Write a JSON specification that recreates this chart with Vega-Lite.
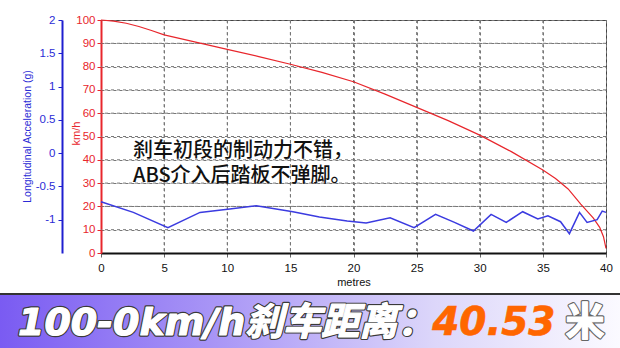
{
  "$schema": "https://vega.github.io/schema/vega-lite/v6.json",
  "width": 505,
  "height": 233,
  "autosize": {"type": "none"},
  "padding": {"left": 101, "top": 20, "right": 14, "bottom": 95},
  "background": "white",
  "config": {
    "view": {"stroke": "#444", "strokeWidth": 1},
    "font": "Liberation Sans"
  },
  "datasets": {
    "speed": [
      {"d": 0, "kmh": 100}, {"d": 1, "kmh": 99.5}, {"d": 2, "kmh": 98.6}, {"d": 3, "kmh": 97.2},
      {"d": 4, "kmh": 95.5}, {"d": 5, "kmh": 93.6}, {"d": 7.5, "kmh": 90.5}, {"d": 10, "kmh": 87.4},
      {"d": 12.5, "kmh": 84.3}, {"d": 15, "kmh": 81}, {"d": 17.5, "kmh": 77.5}, {"d": 20, "kmh": 73.5},
      {"d": 22.5, "kmh": 68.2}, {"d": 25, "kmh": 62.5}, {"d": 27.5, "kmh": 56.8}, {"d": 30, "kmh": 50.6},
      {"d": 32.5, "kmh": 43.5}, {"d": 35, "kmh": 35.6}, {"d": 36, "kmh": 32}, {"d": 37, "kmh": 27.5},
      {"d": 38, "kmh": 21}, {"d": 39, "kmh": 15}, {"d": 39.5, "kmh": 11}, {"d": 39.8, "kmh": 7}, {"d": 40, "kmh": 2}
    ],
    "accel": [
      {"d": 0, "g": -0.73}, {"d": 2.56, "g": -0.89}, {"d": 5.3, "g": -1.12}, {"d": 7.84, "g": -0.89},
      {"d": 10.2, "g": -0.84}, {"d": 12.3, "g": -0.79}, {"d": 15.2, "g": -0.88}, {"d": 17.3, "g": -0.96},
      {"d": 19.5, "g": -1.02}, {"d": 21.0, "g": -1.05}, {"d": 22.9, "g": -0.97}, {"d": 24.8, "g": -1.12},
      {"d": 26.5, "g": -0.92}, {"d": 28.0, "g": -1.04}, {"d": 29.5, "g": -1.17}, {"d": 30.9, "g": -0.92},
      {"d": 32.1, "g": -1.04}, {"d": 33.4, "g": -0.88}, {"d": 34.6, "g": -0.99}, {"d": 35.4, "g": -0.94},
      {"d": 36.4, "g": -1.03}, {"d": 37.1, "g": -1.21}, {"d": 37.9, "g": -0.89}, {"d": 38.5, "g": -1.04},
      {"d": 39.3, "g": -1.0}, {"d": 39.7, "g": -0.87}, {"d": 40, "g": -0.89}
    ],
    "gridx": [{"m": 5}, {"m": 10}, {"m": 15}, {"m": 20}, {"m": 25}, {"m": 30}, {"m": 35}],
    "gridy": [{"k": 10}, {"k": 20}, {"k": 30}, {"k": 40}, {"k": 50}, {"k": 60}, {"k": 70}, {"k": 80}, {"k": 90}],
    "banner": [{"a": 0, "b": 1}]
  },
  "layer": [
    {
      "data": {"name": "gridx"},
      "mark": {"type": "rule", "color": "#777", "strokeWidth": 1, "strokeDash": [3, 3]},
      "encoding": {
        "x": {"field": "m", "type": "quantitative", "scale": {"domain": [0, 40], "nice": false}, "axis": null}
      }
    },
    {
      "data": {"name": "gridy"},
      "mark": {"type": "rule", "color": "#777", "strokeWidth": 1, "strokeDash": [3, 3]},
      "encoding": {
        "y": {"field": "k", "type": "quantitative", "scale": {"domain": [0, 100], "nice": false}, "axis": null}
      }
    },
    {
      "layer": [
        {
          "data": {"name": "speed"},
          "mark": {"type": "line", "color": "#e8262c", "strokeWidth": 1.2},
          "encoding": {
            "x": {"field": "d", "type": "quantitative", "scale": {"domain": [0, 40], "nice": false},
              "axis": {"orient": "bottom", "values": [0, 5, 10, 15, 20, 25, 30, 35, 40], "title": "metres", "titleFontSize": 11, "titleFontWeight": "normal", "titleColor": "#111",
                "titleY": 29, "titleBaseline": "middle", "labelFontSize": 11.5, "labelColor": "#111", "labelPadding": 5, "labelFlush": false, "labelOverlap": false,
                "domainColor": "#111", "domainWidth": 2, "tickColor": "#666", "tickSize": 4,
                "grid": true, "gridColor": "#777", "gridDash": [3, 3], "gridWidth": 1}},
            "y": {"field": "kmh", "type": "quantitative", "scale": {"domain": [0, 100], "nice": false},
              "axis": {"orient": "left", "values": [0, 10, 20, 30, 40, 50, 60, 70, 80, 90, 100], "title": "km/h", "titleColor": "#e8262c", "titleFontSize": 11, "titleFontWeight": "normal",
                "titleX": -25, "titleY": 113, "titleAngle": 270, "titleAlign": "center", "titleBaseline": "middle",
                "labelColor": "#e8262c", "labelFontSize": 11.5, "labelPadding": 2, "labelOverlap": false, "labelFlush": false, "domainColor": "#e8262c", "domainWidth": 2,
                "tickColor": "#e8262c", "tickSize": 4, "grid": true, "gridColor": "#777", "gridDash": [3, 3], "gridWidth": 1}}
          }
        },
        {
          "data": {"values": [{}]},
          "mark": {"type": "text", "font": "Noto Sans CJK SC", "fontSize": 20, "fontWeight": 500, "align": "left", "baseline": "alphabetic", "color": "#111"},
          "encoding": {
            "x": {"datum": 2.53, "type": "quantitative", "scale": {"domain": [0, 40], "nice": false},
              "axis": {"orient": "bottom", "values": [0, 5, 10, 15, 20, 25, 30, 35, 40], "title": "metres", "titleFontSize": 11, "titleFontWeight": "normal", "titleColor": "#111",
                "titleY": 29, "titleBaseline": "middle", "labelFontSize": 11.5, "labelColor": "#111", "labelPadding": 5, "labelFlush": false, "labelOverlap": false,
                "domainColor": "#111", "domainWidth": 2, "tickColor": "#666", "tickSize": 4,
                "grid": true, "gridColor": "#777", "gridDash": [3, 3], "gridWidth": 1}},
            "y": {"datum": 41.4, "type": "quantitative", "scale": {"domain": [0, 100], "nice": false},
              "axis": {"orient": "left", "values": [0, 10, 20, 30, 40, 50, 60, 70, 80, 90, 100], "title": "km/h", "titleColor": "#e8262c", "titleFontSize": 11, "titleFontWeight": "normal",
                "titleX": -25, "titleY": 113, "titleAngle": 270, "titleAlign": "center", "titleBaseline": "middle",
                "labelColor": "#e8262c", "labelFontSize": 11.5, "labelPadding": 2, "labelOverlap": false, "labelFlush": false, "domainColor": "#e8262c", "domainWidth": 2,
                "tickColor": "#e8262c", "tickSize": 4, "grid": true, "gridColor": "#777", "gridDash": [3, 3], "gridWidth": 1}},
            "text": {"value": "刹车初段的制动力不错，"}
          }
        },
        {
          "data": {"values": [{}]},
          "mark": {"type": "text", "font": "Noto Sans CJK SC", "fontSize": 20, "fontWeight": 500, "align": "left", "baseline": "alphabetic", "color": "#111"},
          "encoding": {
            "x": {"datum": 2.53, "type": "quantitative", "scale": {"domain": [0, 40], "nice": false},
              "axis": {"orient": "bottom", "values": [0, 5, 10, 15, 20, 25, 30, 35, 40], "title": "metres", "titleFontSize": 11, "titleFontWeight": "normal", "titleColor": "#111",
                "titleY": 29, "titleBaseline": "middle", "labelFontSize": 11.5, "labelColor": "#111", "labelPadding": 5, "labelFlush": false, "labelOverlap": false,
                "domainColor": "#111", "domainWidth": 2, "tickColor": "#666", "tickSize": 4,
                "grid": true, "gridColor": "#777", "gridDash": [3, 3], "gridWidth": 1}},
            "y": {"datum": 30.3, "type": "quantitative", "scale": {"domain": [0, 100], "nice": false},
              "axis": {"orient": "left", "values": [0, 10, 20, 30, 40, 50, 60, 70, 80, 90, 100], "title": "km/h", "titleColor": "#e8262c", "titleFontSize": 11, "titleFontWeight": "normal",
                "titleX": -25, "titleY": 113, "titleAngle": 270, "titleAlign": "center", "titleBaseline": "middle",
                "labelColor": "#e8262c", "labelFontSize": 11.5, "labelPadding": 2, "labelOverlap": false, "labelFlush": false, "domainColor": "#e8262c", "domainWidth": 2,
                "tickColor": "#e8262c", "tickSize": 4, "grid": true, "gridColor": "#777", "gridDash": [3, 3], "gridWidth": 1}},
            "text": {"value": "ABS介入后踏板不弹脚。"}
          }
        }
      ]
    },
    {
      "data": {"name": "accel"},
      "mark": {"type": "line", "color": "#3b3be0", "strokeWidth": 1.5},
      "encoding": {
        "x": {"field": "d", "type": "quantitative", "scale": {"domain": [0, 40], "nice": false}, "axis": null},
        "y": {"field": "g", "type": "quantitative", "scale": {"domain": [-1.5, 2], "nice": false, "zero": false},
          "axis": {"orient": "left", "offset": 39, "values": [-1, -0.5, 0, 0.5, 1, 1.5, 2], "labelExpr": "'' + datum.value",
            "title": "Longitudinal Acceleration (g)", "titleColor": "#2b2bd6", "titleFontSize": 10.5, "titleFontWeight": "normal",
            "titleX": -35, "titleY": 116, "titleAngle": 270, "titleAlign": "center", "titleBaseline": "middle",
            "labelColor": "#2b2bd6", "labelFontSize": 11.5, "labelPadding": 3, "labelOverlap": false, "labelFlush": false, "domainColor": "#1f1fd0", "domainWidth": 2,
            "tickColor": "#1f1fd0", "tickSize": 4, "grid": false}}
      }
    },
    {
      "data": {"name": "banner"},
      "layer": [
        {
          "mark": {"type": "rect", "color": {"gradient": "linear", "x1": 0, "y1": 0, "x2": 1, "y2": 0,
            "stops": [{"offset": 0, "color": "#7a5bf2"}, {"offset": 0.35, "color": "#a996f6"}, {"offset": 0.7, "color": "#dcd6fa"}, {"offset": 1, "color": "#fbfaff"}]}},
          "encoding": {
            "x": {"field": "a", "type": "quantitative", "scale": {"domain": [0, 1], "range": [-101, 519]}, "axis": null},
            "x2": {"field": "b"},
            "y": {"field": "a", "type": "quantitative", "scale": {"domain": [0, 1], "range": [274, 328]}, "axis": null},
            "y2": {"field": "b"}
          }
        },
        {
          "mark": {"type": "rule", "color": "#333", "strokeWidth": 2},
          "encoding": {
            "x": {"field": "a", "type": "quantitative", "axis": null},
            "x2": {"field": "b"},
            "y": {"datum": 0, "type": "quantitative", "axis": null}
          }
        },
        {
          "mark": {"type": "text", "font": "DejaVu Sans, Noto Sans CJK SC", "fontSize": 38, "fontWeight": "bold", "fontStyle": "italic", "align": "left", "baseline": "alphabetic", "color": "#3a3a3a", "stroke": "#3a3a3a", "strokeWidth": 3.5, "strokeJoin": "round"},
          "encoding": {
            "x": {"datum": 0.029, "type": "quantitative", "axis": null},
            "y": {"datum": 0.76, "type": "quantitative", "axis": null},
            "text": {"value": "100-0km/h刹车距离："}
          }
        },
        {
          "mark": {"type": "text", "font": "DejaVu Sans, Noto Sans CJK SC", "fontSize": 38, "fontWeight": "bold", "fontStyle": "italic", "align": "left", "baseline": "alphabetic", "color": "white", "stroke": "white", "strokeWidth": 1.2, "strokeJoin": "round"},
          "encoding": {
            "x": {"datum": 0.029, "type": "quantitative", "axis": null},
            "y": {"datum": 0.76, "type": "quantitative", "axis": null},
            "text": {"value": "100-0km/h刹车距离："}
          }
        },
        {
          "mark": {"type": "text", "font": "DejaVu Sans", "fontSize": 39, "fontWeight": "bold", "fontStyle": "italic", "align": "left", "baseline": "alphabetic", "color": "#ff6600", "stroke": "#ff6600", "strokeWidth": 0.6},
          "encoding": {
            "x": {"datum": 0.697, "type": "quantitative", "axis": null},
            "y": {"datum": 0.76, "type": "quantitative", "axis": null},
            "text": {"value": "40.53"}
          }
        },
        {
          "mark": {"type": "text", "font": "Noto Sans CJK SC", "fontSize": 39, "fontWeight": "bold", "align": "left", "baseline": "alphabetic", "color": "#666", "stroke": "#666", "strokeWidth": 3.5, "strokeJoin": "round"},
          "encoding": {
            "x": {"datum": 0.912, "type": "quantitative", "axis": null},
            "y": {"datum": 0.76, "type": "quantitative", "axis": null},
            "text": {"value": "米"}
          }
        },
        {
          "mark": {"type": "text", "font": "Noto Sans CJK SC", "fontSize": 39, "fontWeight": "bold", "align": "left", "baseline": "alphabetic", "color": "white", "stroke": "white", "strokeWidth": 1.2, "strokeJoin": "round"},
          "encoding": {
            "x": {"datum": 0.912, "type": "quantitative", "axis": null},
            "y": {"datum": 0.76, "type": "quantitative", "axis": null},
            "text": {"value": "米"}
          }
        }
      ]
    }
  ],
  "resolve": {"scale": {"x": "independent", "y": "independent"}}
}
